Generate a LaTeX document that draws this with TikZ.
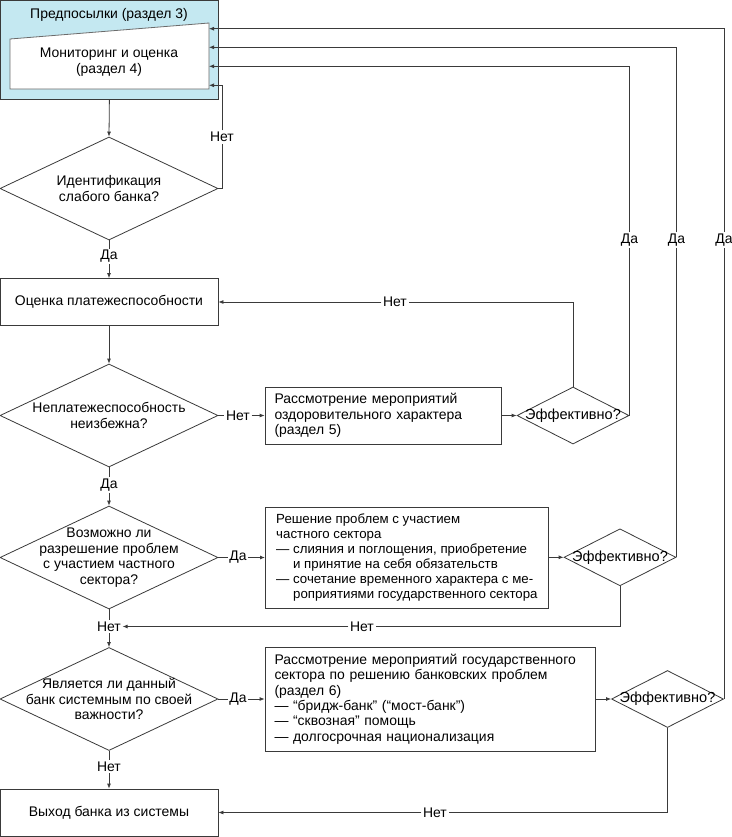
\documentclass[tikz,border=0pt]{standalone}
\usepackage{fontspec}
\setmainfont{Liberation Sans}
\usetikzlibrary{shapes.geometric,arrows.meta}
\definecolor{lc}{HTML}{3A3A3A}
\definecolor{bluefill}{HTML}{C4E8F1}
\begin{document}
\begin{tikzpicture}[x=1bp,y=-1bp,
  every node/.style={font=\fontsize{14}{15.5}\selectfont, text=black},
  line/.style={draw=lc, line width=0.8bp},
  arr/.style={line, -{Latex[length=5bp,width=4bp]}},
  box/.style={draw=lc, line width=0.8bp, fill=white, rectangle, minimum width=218bp, minimum height=47bp, inner sep=0},
  tbox/.style={draw=lc, line width=0.8bp, fill=white, rectangle, align=left, inner xsep=9.5bp, inner ysep=0},
  dia/.style={draw=lc, line width=0.8bp, fill=white, diamond, aspect=2, minimum width=218bp, minimum height=103bp, inner xsep=-30bp, inner ysep=-25bp, align=center},
  eff/.style={draw=lc, line width=0.8bp, fill=white, diamond, aspect=2, minimum width=112bp, minimum height=57bp, inner xsep=-12bp, inner ysep=-3bp, font=\fontsize{14.6}{15.5}\selectfont},
  lbl/.style={inner sep=1.5bp}
]
\useasboundingbox (0,0) rectangle (732,837);
% top block
\node[draw=lc, fill=bluefill, line width=0.8bp, minimum width=217bp, minimum height=98bp, inner sep=0, anchor=north west] (pre) at (0.5,0.5) {};
\node (pret) at (109,15) {Предпосылки (раздел 3)};
\path[draw=lc!75, fill=white, line width=0.8bp] (10,39) -- (209,23) -- (209,89) -- (10,89) -- cycle;
\node[align=center] (mon) at (109,62) {Мониторинг и оценка\\(раздел 4)};
\coordinate (m1) at (209,28.7);
\coordinate (m2) at (209,47.3);
\coordinate (m3) at (209,66.3);
\coordinate (m4) at (209,85.3);
% left column
\node[dia] (d1) at (109,188.5) {Идентификация\\слабого банка?};
\node[box] (b2) at (109,302) {Оценка платежеспособности};
\node[dia] (d2) at (109,415.5) {Неплатежеспособность\\неизбежна?};
\node[dia] (d3) at (109,557.5) {Возможно ли\\разрешение проблем\\с участием частного\\сектора?};
\node[dia] (d4) at (109,699) {Является ли данный\\банк системным по своей\\важности?};
\node[box] (b6) at (109,812.5) {Выход банка из системы};
% middle boxes
\node[tbox, minimum width=236bp, minimum height=57bp, text width=217bp] (b3) at (383,415.5)
  {Рассмотрение мероприятий\\оздоровительного характера\\(раздел 5)};
\node[tbox, inner xsep=9bp, minimum width=283bp, minimum height=101bp, anchor=west,
      font=\fontsize{13.3}{15.2}\selectfont] (b4) at (265,557.5)
  {Решение проблем с участием\\частного сектора\\— слияния и поглощения, приобретение\\\phantom{— }и принятие на себя обязательств\\— сочетание временного характера с ме-\\\phantom{— }роприятиями государственного сектора};
\node[tbox, minimum width=330bp, minimum height=104bp, text width=311bp] (b5) at (430,699)
  {Рассмотрение мероприятий государственного\\сектора по решению банковских проблем\\(раздел 6)\\— “бридж-банк” (“мост-банк”)\\— “сквозная” помощь\\— долгосрочная национализация};
% effectiveness diamonds
\node[eff] (e1) at (573,415.5) {Эффективно?};
\node[eff] (e2) at (620,557.3) {Эффективно?};
\node[eff] (e3) at (667.5,699) {Эффективно?};
% labels
\node[lbl] (yes1) at (109,256.5) {Да};
\node[lbl] (yes2) at (109,485) {Да};
\node[lbl] (no3) at (109,626.5) {Нет};
\node[lbl] (no4) at (109,766.5) {Нет};
\node[lbl] (no1) at (222,137) {Нет};
\node[lbl] (no2) at (238,415.5) {Нет};
\node[lbl] (yes3) at (238,557.5) {Да};
\node[lbl] (yes4) at (238,699) {Да};
\node[lbl] (no5) at (395,302) {Нет};
\node[lbl] (no6) at (362,626.5) {Нет};
\node[lbl] (no7) at (435,812.5) {Нет};
\node[lbl] (ye1) at (e1.east |- 0,240) {Да};
\node[lbl] (ye2) at (e2.east |- 0,240) {Да};
\node[lbl] (ye3) at (e3.east |- 0,240) {Да};
% main flow
\draw[arr] (pre.south) -- (d1.north);
\draw[line] (d1.south) -- (yes1);
\draw[arr] (yes1) -- (b2.north);
\draw[arr] (b2.south) -- (d2.north);
\draw[line] (d2.south) -- (yes2);
\draw[arr] (yes2) -- (d3.north);
\draw[line] (d3.south) -- (no3);
\draw[arr] (no3) -- (d4.north);
\draw[line] (d4.south) -- (no4);
\draw[arr] (no4) -- (b6.north);
% to the right
\draw[line] (d1.east) -| (no1.south);
\draw[arr] (no1.north) |- (m4);
\draw[line] (d2.east) -- (no2);
\draw[arr] (no2) -- (b3.west);
\draw[line] (d3.east) -- (yes3);
\draw[arr] (yes3) -- (b4.west);
\draw[line] (d4.east) -- (yes4);
\draw[arr] (yes4) -- (b5.west);
\draw[arr] (b3.east) -- (e1.west);
\draw[arr] (b4.east |- e2.west) -- (e2.west);
\draw[arr] (b5.east |- e3.west) -- (e3.west);
% back loops
\draw[line] (e1.north) |- (no5);
\draw[arr] (no5) -- (b2.east);
\draw[line] (e2.south) |- (no6);
\draw[arr] (no6) -- (no3);
\draw[line] (e3.south) |- (no7);
\draw[arr] (no7) -- (b6.east);
\draw[line] (e1.east) -- (ye1.south);
\draw[arr] (ye1.north) |- (m3);
\draw[line] (e2.east) -- (ye2.south);
\draw[arr] (ye2.north) |- (m2);
\draw[line] (e3.east) -- (ye3.south);
\draw[arr] (ye3.north) |- (m1);
\end{tikzpicture}
\end{document}
